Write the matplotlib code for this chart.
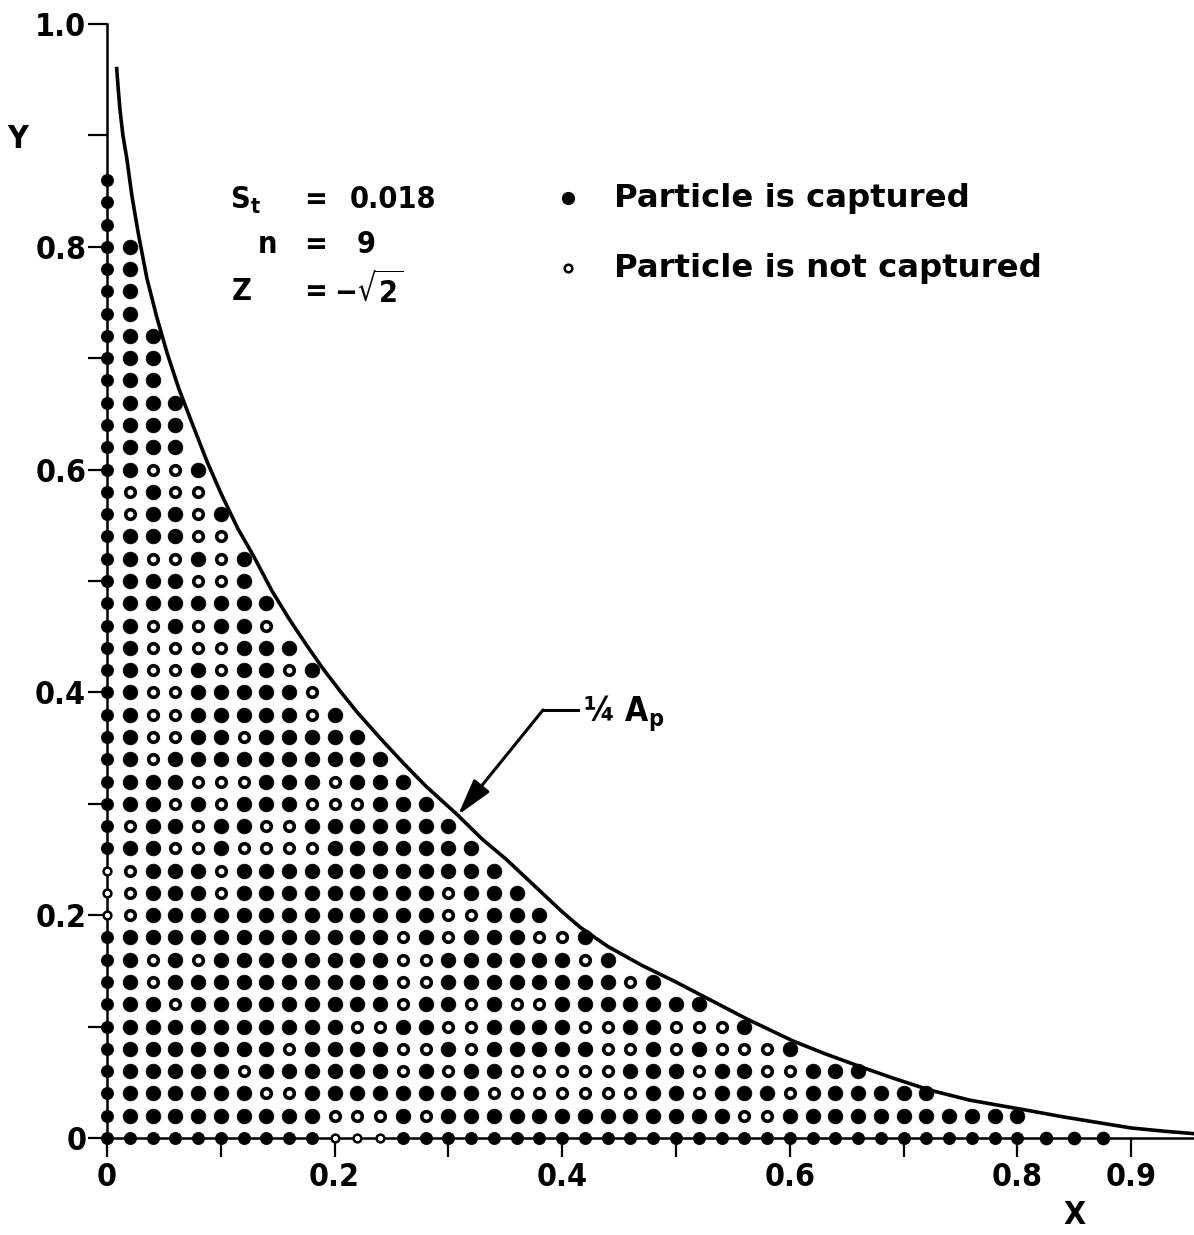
import matplotlib.pyplot as plt

# ---- data ---------------------------------------------------------------
# release grid: one string per row, column i sits at x = i * grid_step
# F = particle is captured, O = particle is not captured
grid_step = 0.02
row_y = [0.00, 0.02, 0.04, 0.06, 0.08, 0.10, 0.12, 0.14, 0.16, 0.18,
         0.20, 0.22, 0.24, 0.26, 0.28, 0.30, 0.32, 0.34, 0.36, 0.38,
         0.40, 0.42, 0.44, 0.46, 0.48, 0.50, 0.52, 0.54, 0.56, 0.58,
         0.60, 0.62, 0.64, 0.66, 0.68, 0.70, 0.72, 0.74, 0.76, 0.78,
         0.80, 0.82, 0.84, 0.86]
row_pattern = [
    "FFFFFFFFFFOOO" + "FFFFFFFFFFFFFFFFFFFFFFFFFFFF",
    "FFFFFFFFFFOOO" + "FO" + "FFFFFFFFFF" + "FFF" + "OO" + "FFFFFFFFFFF",
    "FFFFFFFOOFFFF" + "FFFF" + "OOOOOOO" + "FF" + "O" + "FFF" + "O" + "FFFFFF",
    "FFFFFFOFFFFFF" + "OFOFF" + "OOOOO" + "FFF" + "O" + "FF" + "OO" + "FFF",
    "FFFFFFFFOFFFF" + "OOFOFFFFF" + "OO" + "F" + "O" + "F" + "OOO" + "F",
    "FFFFFFFFFFFOO" + "FFOOFFFF" + "OO" + "FF" + "OOO" + "F",
    "FFFOFFFFFFFFF" + "OFFOFOO" + "FFFFFFF",
    "FFOFFFFFFFFFF" + "OOFFFFFFFF" + "OF",
    "FFOFOFFFFFFFF" + "OOFFFFFF" + "OF",
    "FFFFFFFFFFFFF" + "OFOFFFOOF",
    "OOFFFFFFFFFFF" + "FFOOFFF",
    "OOFFFOFFFFFFF" + "FFOFFF",
    "OOFFFOFFFFFFF" + "FFFFF",
    "FFFOOFOOOOFFF" + "FFFF",
    "FOFFOFFOOFFFF" + "FFF",
    "FFFOFOFFFOOOF" + "FF",
    "FFFFOOOFFFOFF" + "F",
    "FFOFFFFFFFFFF",
    "FFOOFFOFFFFF",
    "FFOOFFFFFOF",
    "FFOOFFFFFO",
    "FFOOFOFFOF",
    "FFOOOOFFF",
    "FFOFOFFO",
    "FFFFFFFF",
    "FFFFOOF",
    "FFOOFOF",
    "FFFFOO",
    "FOFFOF",
    "FOFOO",
    "FFOOF",
    "FFFF", "FFFF", "FFFF",
    "FFF", "FFF", "FFF",
    "FF", "FF", "FF", "FF",
    "F", "F", "F",
]
# last captured points on the X axis, spaced wider than the grid
tail_x = [0.825, 0.85, 0.875]

# boundary curve (1/4 A_p)
curve_x = [0.0085, 0.0100, 0.0115, 0.0140, 0.0173, 0.0220, 0.0275, 0.0350,
           0.0437, 0.0530, 0.0630, 0.0750, 0.0880, 0.1000, 0.1150, 0.1290,
           0.1450, 0.1600, 0.1750, 0.1900, 0.2050, 0.2200, 0.2400, 0.2600,
           0.2800, 0.3070, 0.3300, 0.3510, 0.3750, 0.4000, 0.4160, 0.4400,
           0.4700, 0.5000, 0.5300, 0.5620, 0.6030, 0.6300, 0.6620, 0.6900,
           0.7230, 0.7580, 0.7800, 0.8080, 0.8400, 0.8700, 0.9000, 0.9300,
           0.9540]
curve_y = [0.960, 0.940, 0.922, 0.900, 0.880, 0.845, 0.812, 0.772,
           0.737, 0.704, 0.673, 0.641, 0.607, 0.579, 0.547, 0.522,
           0.491, 0.466, 0.443, 0.421, 0.401, 0.382, 0.359, 0.337,
           0.316, 0.291, 0.268, 0.250, 0.227, 0.203, 0.189, 0.172,
           0.155, 0.140, 0.124, 0.107, 0.087, 0.076, 0.064, 0.054,
           0.043, 0.034, 0.030, 0.025, 0.019, 0.014, 0.009, 0.006,
           0.004]

x_ticks = [0, 0.1, 0.2, 0.3, 0.4, 0.5, 0.6, 0.7, 0.8, 0.9]
x_ticklabels = ["0", "", "0.2", "", "0.4", "", "0.6", "", "0.8", "0.9"]
y_ticks = [0, 0.1, 0.2, 0.3, 0.4, 0.5, 0.6, 0.7, 0.8, 0.9, 1.0]
y_ticklabels = ["0", "", "0.2", "", "0.4", "", "0.6", "", "0.8", "", "1.0"]

# ---- figure ----------------------------------------------------------------
plt.rcParams["font.family"] = "DejaVu Sans"
plt.rcParams["font.weight"] = "bold"
plt.rcParams["font.stretch"] = "condensed"
plt.rcParams["mathtext.default"] = "regular"

W, H = 1194, 1235
fig = plt.figure(figsize=(W / 100, H / 100), dpi=100)
x_max = 0.954
ax = fig.add_axes([107 / W, (H - 1138) / H, x_max * 1138 / W, 1114 / H])
ax.set_xlim(0, x_max)
ax.set_ylim(0, 1.0)

# grid points
for y, pat in zip(row_y, row_pattern):
    for i, c in enumerate(pat):
        x = i * grid_step
        on_axis = (i == 0) or (y == 0)
        if c == "F":
            ax.plot(x, y, "o", color="black", mec="black",
                    ms=8.8 if on_axis else 10.6, mew=0.5,
                    clip_on=False, zorder=4)
        else:
            ax.plot(x, y, "o", mfc="white", mec="black",
                    ms=5.6 if on_axis else 6.9,
                    mew=1.8 if on_axis else 2.6,
                    clip_on=False, zorder=4)
for x in tail_x:
    ax.plot(x, 0, "o", color="black", ms=8.8, clip_on=False, zorder=4)

# boundary curve
ax.plot(curve_x, curve_y, color="black", lw=2.6, clip_on=False, zorder=3,
        solid_joinstyle="round")

# axes
for s in ("top", "right"):
    ax.spines[s].set_visible(False)
for s in ("left", "bottom"):
    ax.spines[s].set_linewidth(1.8)
ax.set_xticks(x_ticks)
ax.set_xticklabels(x_ticklabels)
ax.set_yticks(y_ticks)
ax.set_yticklabels(y_ticklabels)
ax.tick_params(axis="both", direction="out", length=14, width=1.6,
               labelsize=23)
ax.tick_params(axis="x", pad=3)
ax.tick_params(axis="y", pad=1)

fig.text(18 / W, 1 - 140 / H, "Y", fontsize=23, ha="center", va="center")
fig.text(1075 / W, 1 - 1215 / H, "X", fontsize=23, ha="center", va="center")


# parameter block (positions given in picture pixels)
def px(xp, yp):
    return (xp - 107) / 1138, (1138 - yp) / 1114


ax.text(*px(230, 200), "S$_t$", fontsize=22, ha="left", va="center")
ax.text(*px(258, 245), "n", fontsize=22, ha="left", va="center")
ax.text(*px(232, 292), "Z", fontsize=22, ha="left", va="center")
for yp in (200, 245, 292):
    ax.text(*px(316, yp), "=", fontsize=22, ha="center", va="center")
ax.text(*px(350, 200), "0.018", fontsize=22, ha="left", va="center")
ax.text(*px(357, 245), "9", fontsize=22, ha="left", va="center")
ax.text(*px(334, 290), r"$-\sqrt{2}$", fontsize=22, ha="left", va="center")

# key
ax.plot(*px(568, 198), "o", color="black", ms=8.5, clip_on=False)
ax.plot(*px(568, 268), "o", mfc="white", mec="black", ms=5.5, mew=1.8,
        clip_on=False)
ax.text(*px(614, 198), "Particle is captured", fontsize=23.3,
        fontstretch="normal", ha="left", va="center")
ax.text(*px(614, 268), "Particle is not captured", fontsize=23.3,
        fontstretch="normal", ha="left", va="center")

# curve label
corner = px(543, 710)
ax.plot([corner[0], px(578, 710)[0]], [corner[1], corner[1]],
        color="black", lw=2.2)
ax.annotate("", xy=px(458, 815), xytext=corner,
            arrowprops=dict(arrowstyle="-|>,head_length=0.8,head_width=0.22",
                            color="black", lw=2.2,
                            mutation_scale=28, shrinkA=0, shrinkB=0))
ax.text(*px(583, 714), "¼ A$_p$", fontsize=24, ha="left", va="center")

fig.savefig("out.png", dpi=100)
